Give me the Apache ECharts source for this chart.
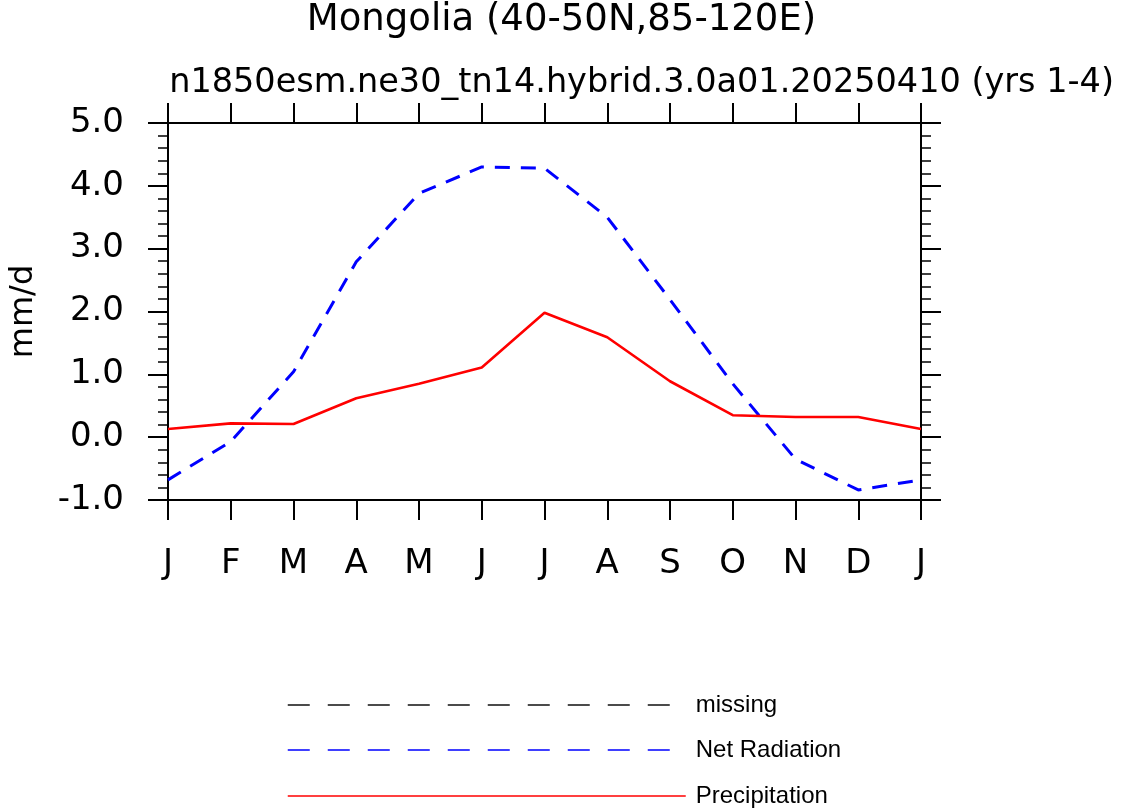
<!DOCTYPE html>
<html>
<head>
<meta charset="utf-8">
<script src="https://cdn.jsdelivr.net/npm/echarts@6/dist/echarts.min.js"></script>
<style>
  html, body { margin: 0; padding: 0; background: #fff; }
  #chart { width: 1123px; height: 809px; }
</style>
</head>
<body>
<div id="chart"></div>
<script>
// months, Jan .. Jan (cyclic)
var months = ['J', 'F', 'M', 'A', 'M', 'J', 'J', 'A', 'S', 'O', 'N', 'D', 'J'];
// mm/d
var netRadiation = [-0.68, -0.07, 1.04, 2.79, 3.88, 4.30, 4.28, 3.50, 2.19, 0.85, -0.35, -0.84, -0.68];
var precipitation = [0.13, 0.22, 0.21, 0.62, 0.85, 1.11, 1.98, 1.59, 0.89, 0.35, 0.32, 0.32, 0.13];
var seriesNames = ['missing', 'Net Radiation', 'Precipitation'];
var titleText = 'Mongolia (40-50N,85-120E)';
var subTitleText = 'n1850esm.ne30_tn14.hybrid.3.0a01.20250410 (yrs 1-4)';

var font = 'DejaVu Sans';
var myChart = echarts.init(document.getElementById('chart'), null, { renderer: 'canvas' });

var frameLine = { show: true, onZero: false, lineStyle: { color: '#000', width: 2 } };
var majorTick = { show: true, inside: false, length: 20, lineStyle: { color: '#000', width: 2 } };
var minorTick = { show: true, splitNumber: 5, length: 10, lineStyle: { color: '#000', width: 1.5 } };
var noSymbol = { opacity: 0 };

// one legend per row, so they stack like the NCL legend
function legendRow(name, top, dash) {
  return {
    orient: 'vertical',
    left: 287,
    top: top,
    padding: 0,
    itemWidth: 398,
    itemHeight: 14,
    selectedMode: false,
    textStyle: {
      fontFamily: 'Liberation Sans',
      fontSize: 24,
      color: '#000',
      padding: [3, 0, 0, 5]
    },
    data: [{ name: name, itemStyle: noSymbol, lineStyle: { type: dash, width: 1.5 } }]
  };
}

var option = {
  backgroundColor: '#fff',
  animation: false,
  title: [
    {
      text: titleText,
      left: 'center',
      top: -3,
      textStyle: { fontFamily: font, fontSize: 37, fontWeight: 'normal', color: '#000' }
    },
    {
      text: subTitleText,
      right: 4,
      top: 61,
      textStyle: { fontFamily: font, fontSize: 33.5, fontWeight: 'normal', color: '#000' }
    }
  ],
  grid: { left: 168, right: 202, top: 123, bottom: 309 },
  legend: [
    legendRow(seriesNames[0], 693, [22, 18]),
    legendRow(seriesNames[1], 738, [22, 18]),
    legendRow(seriesNames[2], 784, 'solid')
  ],
  xAxis: [
    {
      type: 'category',
      data: months,
      boundaryGap: false,
      position: 'bottom',
      axisLine: frameLine,
      axisTick: majorTick,
      axisLabel: { margin: 47, fontFamily: font, fontSize: 34, color: '#000' },
      splitLine: { show: false }
    },
    {
      type: 'category',
      data: months,
      boundaryGap: false,
      position: 'top',
      axisLine: frameLine,
      axisTick: majorTick,
      axisLabel: { show: false },
      splitLine: { show: false }
    }
  ],
  yAxis: [
    {
      type: 'value',
      min: -1,
      max: 5,
      interval: 1,
      position: 'left',
      name: 'mm/d',
      nameLocation: 'middle',
      nameGap: 128,
      nameTextStyle: { fontFamily: font, fontSize: 32, color: '#000' },
      axisLine: frameLine,
      axisTick: majorTick,
      minorTick: minorTick,
      axisLabel: {
        margin: 44,
        fontFamily: font,
        fontSize: 34,
        color: '#000',
        formatter: function (v) { return v.toFixed(1); }
      },
      splitLine: { show: false }
    },
    {
      type: 'value',
      min: -1,
      max: 5,
      interval: 1,
      position: 'right',
      axisLine: frameLine,
      axisTick: majorTick,
      minorTick: minorTick,
      axisLabel: { show: false },
      splitLine: { show: false }
    }
  ],
  series: [
    {
      name: seriesNames[0],
      type: 'line',
      data: [],
      symbol: 'none',
      color: '#111',
      lineStyle: { color: '#111', type: [22, 18], width: 1 }
    },
    {
      name: seriesNames[1],
      type: 'line',
      data: netRadiation,
      symbol: 'none',
      color: '#0000ff',
      lineStyle: { color: '#0000ff', type: [15, 11], width: 3 },
      z: 3
    },
    {
      name: seriesNames[2],
      type: 'line',
      data: precipitation,
      symbol: 'none',
      color: '#ff0000',
      lineStyle: { color: '#ff0000', type: 'solid', width: 2.6 },
      z: 4
    }
  ]
};

option && myChart.setOption(option);
</script>
</body>
</html>
